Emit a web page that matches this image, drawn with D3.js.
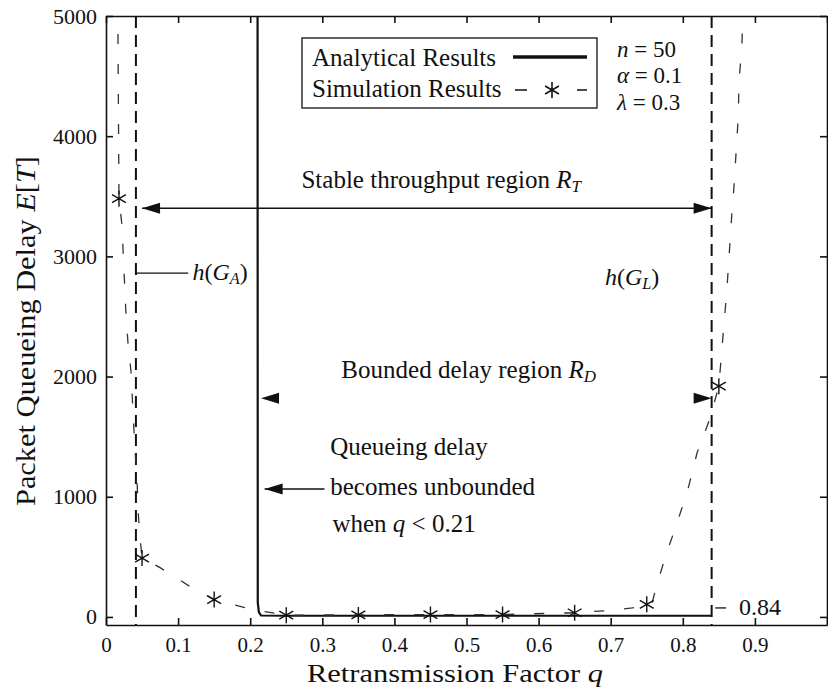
<!DOCTYPE html>
<html>
<head>
<meta charset="utf-8">
<script src="https://cdn.jsdelivr.net/npm/d3@7"></script>
<style>
  body { margin: 0; background: #fff; }
  svg text { font-family: "Liberation Serif", "Times New Roman", serif; fill: #111; }
</style>
</head>
<body>
<svg id="chart" width="828" height="690"></svg>
<script>
// ---- data ----------------------------------------------------------------
// analytical mean queueing delay E[T] versus retransmission factor q
const analyticQ     = [0.2102, 0.2105, 0.212, 0.215, 0.25, 0.35, 0.45, 0.55, 0.65, 0.75, 0.84];
const analyticDelay = [5200,   120,    40,    12,    10,   10,   10,   10,   10,   10,   10];

// simulated delay curve (dashed)
const simCurveQ     = [0.0163, 0.0166, 0.018, 0.022, 0.0236, 0.0277, 0.0305, 0.0347, 0.0374, 0.040, 0.043, 0.0444, 0.047, 0.05, 0.075, 0.12, 0.15, 0.172, 0.207, 0.25, 0.35, 0.45, 0.55, 0.65, 0.70, 0.73, 0.757, 0.763, 0.778, 0.792, 0.807, 0.82, 0.837, 0.85, 0.857, 0.861, 0.868, 0.871, 0.877, 0.878, 0.882, 0.8835];
const simCurveDelay = [5100,   4850,   3480,  3270,  3060,   2520,   2280,   2040,   1710,   1420,  1160,  890,    670,   490,  410,   240,  145,  108,   57,    15,   17,   20,   20,   35,   55,   75,   105,   250,   540,   780,   1060,  1370, 1640,  1920, 2430,  2710,  3350,  3580,  4170,  4460,  4750,  5100];

// simulation points (asterisks)
const simQ     = [0.018, 0.05, 0.15, 0.25, 0.35, 0.45, 0.55, 0.65, 0.75, 0.85];
const simDelay = [3480,  490,  145,  15,   17,   20,   20,   35,   105,  1920];

// stability boundaries h(G_A) and h(G_L)
const boundaryQ = [0.0415, 0.84];

// axes
const xTicks      = [0, 0.1, 0.2, 0.3, 0.4, 0.5, 0.6, 0.7, 0.8, 0.9, 1];
const xTickLabels = ["0", "0.1", "0.2", "0.3", "0.4", "0.5", "0.6", "0.7", "0.8", "0.9", ""];
const yTicks      = [0, 1000, 2000, 3000, 4000, 5000];
const yTickLabels = ["0", "1000", "2000", "3000", "4000", "5000"];

// ---- layout --------------------------------------------------------------
const plot = { left: 106, right: 827, top: 16, bottom: 625 };
const svg = d3.select("#chart");

const x = d3.scaleLinear().domain([0, 1]).range([plot.left, plot.right]);
const y = d3.scaleLinear().domain([-67, 5000]).range([plot.bottom, plot.top]);

svg.append("defs").append("clipPath").attr("id", "plotClip")
  .append("rect")
  .attr("x", plot.left).attr("y", plot.top)
  .attr("width", plot.right - plot.left).attr("height", plot.bottom - plot.top);

// ---- axes ----------------------------------------------------------------
function styleAxis(g, size) {
  g.attr("font-family", null).attr("font-size", null);
  g.select(".domain").attr("stroke", "#111").attr("stroke-width", 1.6);
  g.selectAll(".tick line").attr("stroke", "#111").attr("stroke-width", 1.6);
  g.selectAll(".tick text").style("font-size", size + "px").attr("fill", "#111");
}

const xLabel = d => xTickLabels[xTicks.indexOf(d)];
const yLabel = d => yTickLabels[yTicks.indexOf(d)];

svg.append("g").attr("transform", `translate(0,${plot.bottom})`)
  .call(d3.axisBottom(x).tickValues(xTicks).tickFormat(xLabel)
        .tickSizeInner(-7).tickSizeOuter(0).tickPadding(12))
  .call(g => styleAxis(g, 21));

svg.append("g").attr("transform", `translate(0,${plot.top})`)
  .call(d3.axisTop(x).tickValues(xTicks).tickFormat("")
        .tickSizeInner(-7).tickSizeOuter(0))
  .call(g => styleAxis(g, 21));

svg.append("g").attr("transform", `translate(${plot.left},0)`)
  .call(d3.axisLeft(y).tickValues(yTicks).tickFormat(yLabel)
        .tickSizeInner(-7).tickSizeOuter(0).tickPadding(9))
  .call(g => styleAxis(g, 22));

svg.append("g").attr("transform", `translate(${plot.right},0)`)
  .call(d3.axisRight(y).tickValues(yTicks).tickFormat("")
        .tickSizeInner(-7).tickSizeOuter(0))
  .call(g => styleAxis(g, 22));

// ---- text helper (italic / subscript runs) -------------------------------
function richText(parent, px, py, parts, size, anchor) {
  const t = parent.append("text")
    .attr("x", px).attr("y", py)
    .attr("text-anchor", anchor || "start")
    .style("font-size", size + "px");
  parts.forEach(p => {
    const [str, kind] = typeof p === "string" ? [p, ""] : p;
    const s = t.append("tspan").text(str);
    if (kind.includes("i")) s.style("font-style", "italic");
    if (kind.includes("s")) s.attr("baseline-shift", "-25%").style("font-size", (size * 0.68) + "px");
  });
  return t;
}

// axis titles
richText(svg, 455, 682, ["Retransmission Factor ", ["q", "i"]], 26, "middle")
  .attr("textLength", 296).attr("lengthAdjust", "spacingAndGlyphs");
richText(svg, 0, 0, ["Packet Queueing Delay ", ["E", "i"], "[", ["T", "i"], "]"], 27, "middle")
  .attr("transform", "translate(35,331) rotate(-90)")
  .attr("textLength", 350).attr("lengthAdjust", "spacingAndGlyphs");

// ---- data layers ---------------------------------------------------------
const layer = svg.append("g").attr("clip-path", "url(#plotClip)");

// stability boundaries
layer.selectAll(".boundary").data(boundaryQ).join("line")
  .attr("class", "boundary")
  .attr("x1", d => x(d)).attr("x2", d => x(d))
  .attr("y1", y(5000)).attr("y2", y(-67))
  .attr("stroke", "#111").attr("stroke-width", 2)
  .attr("stroke-dasharray", "12,7");

// analytical curve
const analytic = analyticQ.map((q, i) => [q, analyticDelay[i]]);
layer.append("path").datum(analytic)
  .attr("d", d3.line().x(d => x(d[0])).y(d => y(d[1])))
  .attr("fill", "none").attr("stroke", "#111").attr("stroke-width", 2.2);

// simulation curve
const simCurve = simCurveQ.map((q, i) => [q, simCurveDelay[i]]);
layer.append("path").datum(simCurve)
  .attr("d", d3.line().x(d => x(d[0])).y(d => y(d[1])))
  .attr("fill", "none").attr("stroke", "#333").attr("stroke-width", 1.3)
  .attr("stroke-dasharray", "10,20");

// asterisk marker
function asterisk(r) {
  const p = d3.path();
  [90, 30, 150].forEach(a => {
    const rad = a * Math.PI / 180;
    p.moveTo(r * Math.cos(rad), -r * Math.sin(rad));
    p.lineTo(-r * Math.cos(rad), r * Math.sin(rad));
  });
  return p.toString();
}

layer.selectAll(".sim").data(simQ.map((q, i) => [q, simDelay[i]])).join("path")
  .attr("class", "sim")
  .attr("transform", d => `translate(${x(d[0])},${y(d[1])})`)
  .attr("d", asterisk(8))
  .attr("fill", "none").attr("stroke", "#111").attr("stroke-width", 1.4);

// ---- annotations -----------------------------------------------------------
const ann = svg.append("g");

function arrowHead(px, py, dir) {
  const len = 18, half = 5.5;
  ann.append("path")
    .attr("d", `M${px},${py}L${px - dir * len},${py - half}L${px - dir * len},${py + half}Z`)
    .attr("fill", "#111");
}

// stable throughput region R_T
const rtY = y(3400);
ann.append("line").attr("x1", x(0.05)).attr("x2", x(0.84)).attr("y1", rtY).attr("y2", rtY)
  .attr("stroke", "#111").attr("stroke-width", 1.4);
arrowHead(x(0.05), rtY, -1);
arrowHead(x(0.84), rtY, 1);
richText(ann, x(0.465), y(3570), ["Stable throughput region  ", ["R", "i"], ["T", "is"]], 25, "middle");

// bounded delay region R_D
const rdY = y(1820);
arrowHead(x(0.215), rdY, -1);
arrowHead(x(0.84), rdY, 1);
richText(ann, x(0.503), y(1990), ["Bounded delay region ", ["R", "i"], ["D", "is"]], 25, "middle");

// unbounded delay note
const ubY = y(1065);
ann.append("line").attr("x1", x(0.303)).attr("x2", x(0.22)).attr("y1", ubY).attr("y2", ubY)
  .attr("stroke", "#111").attr("stroke-width", 1.4);
arrowHead(x(0.22), ubY, -1);
richText(ann, x(0.311), y(1347), ["Queueing delay"], 25);
richText(ann, x(0.311), y(1015), ["becomes unbounded"], 25);
richText(ann, x(0.314), y(707), ["when ", ["q", "i"], " < 0.21"], 25);

// boundary labels
const gaY = y(2860);
ann.append("line").attr("x1", x(0.0415)).attr("x2", x(0.114)).attr("y1", gaY).attr("y2", gaY)
  .attr("stroke", "#111").attr("stroke-width", 1.3);
richText(ann, x(0.12), y(2800), [["h", "i"], "(", ["G", "i"], ["A", "is"], ")"], 24);
richText(ann, x(0.692), y(2765), [["h", "i"], "(", ["G", "i"], ["L", "is"], ")"], 24);

const lbY = y(75);
ann.append("line").attr("x1", x(0.845)).attr("x2", x(0.86)).attr("y1", lbY).attr("y2", lbY)
  .attr("stroke", "#111").attr("stroke-width", 1.3);
richText(ann, x(0.878), y(16), ["0.84"], 24);

// ---- legend --------------------------------------------------------------
const leg = svg.append("g");
leg.append("rect").attr("x", 302).attr("y", 38).attr("width", 295).attr("height", 70)
  .attr("fill", "#fff").attr("stroke", "#111").attr("stroke-width", 1.3);
richText(leg, 312, 66, ["Analytical Results"], 25);
richText(leg, 312, 97, ["Simulation Results"], 25);
leg.append("line").attr("x1", 513).attr("x2", 587).attr("y1", 57).attr("y2", 57)
  .attr("stroke", "#111").attr("stroke-width", 3.5);
leg.append("line").attr("x1", 515).attr("x2", 587).attr("y1", 90).attr("y2", 90)
  .attr("stroke", "#111").attr("stroke-width", 1.6).attr("stroke-dasharray", "12,50");
leg.append("path").attr("transform", "translate(552,90)").attr("d", asterisk(8))
  .attr("fill", "none").attr("stroke", "#111").attr("stroke-width", 1.6);

// model parameters
richText(svg, 617, 57, [["n", "i"], " = 50"], 23);
richText(svg, 617, 83, [["α", "i"], " = 0.1"], 23);
richText(svg, 617, 110, [["λ", "i"], " = 0.3"], 23);
</script>
</body>
</html>
